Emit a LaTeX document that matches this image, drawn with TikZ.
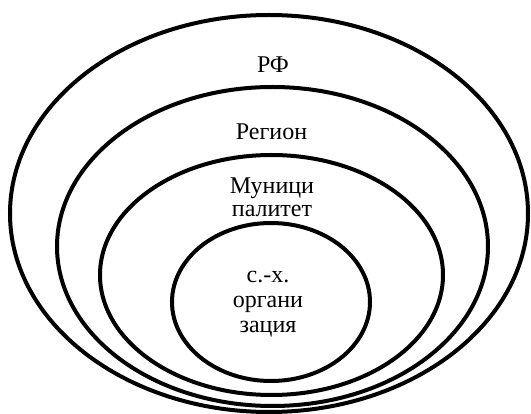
\documentclass[tikz,border=0pt]{standalone}
\usepackage{fontspec}
\setmainfont{Liberation Serif}
\newfontfamily\labfont{Liberation Serif}
\usetikzlibrary{shapes.geometric}

\begin{document}
\begin{tikzpicture}[x=1pt,y=-1pt,
 ring/.style={draw,ellipse,line width=4pt,inner sep=0pt},
 lab/.style={font=\labfont\fontsize{24}{23}\selectfont,align=center,inner sep=0pt,anchor=base}]
\useasboundingbox (0,0) rectangle (531,414);
% nested levels
\node[ring,minimum width=518pt,minimum height=397pt] (rf) at (269,213.5) {};
\node[ring,minimum width=431pt,minimum height=319pt] (reg) at (272.5,246.5) {};
\node[ring,minimum width=343pt,minimum height=240pt] (mun) at (271.5,275) {};
\node[ring,minimum width=198pt,minimum height=158pt] (org) at (271,302) {};
% labels (base = last line)
\node[lab] (lrf) at (273,73) {РФ};
\node[lab] (lreg) at (271.5,140) {Регион};
\node[lab] (lmun) at (272,217) {Муници\\палитет};
\node[lab,font=\labfont\fontsize{24}{25}\selectfont] (lorg) at (268,333) {с.-х.\\органи\\зация};
\end{tikzpicture}
\end{document}
